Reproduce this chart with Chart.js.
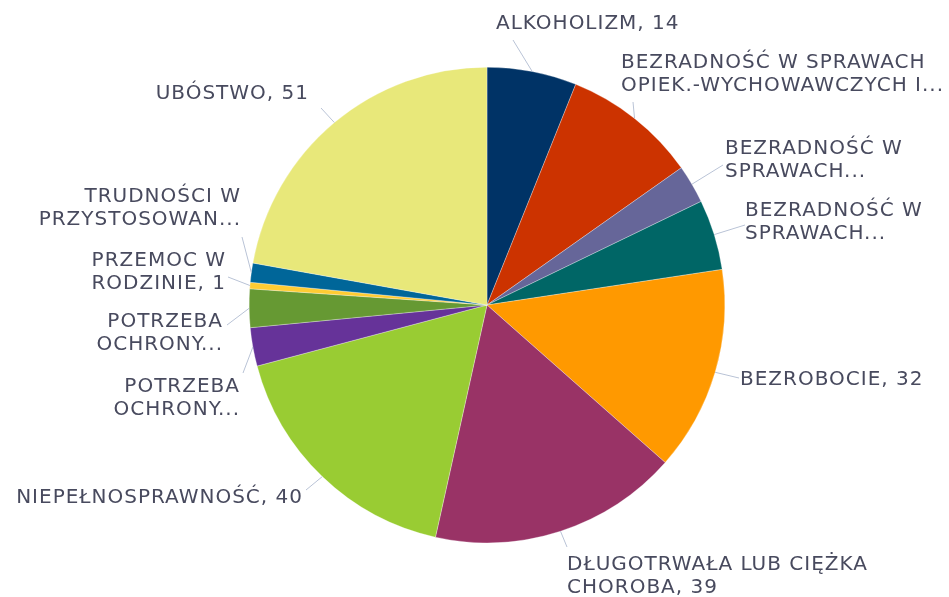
<!DOCTYPE html>
<html>
<head>
<meta charset="utf-8">
<script src="https://cdn.jsdelivr.net/npm/chart.js@4/dist/chart.umd.min.js"></script>
<style>
  html, body { margin: 0; background: #fff; }
</style>
</head>
<body>
<canvas id="chart" width="949" height="597"></canvas>
<script>
const categories = [
  'ALKOHOLIZM',
  'BEZRADNOŚĆ W SPRAWACH\nOPIEK.-WYCHOWAWCZYCH I...',
  'BEZRADNOŚĆ W\nSPRAWACH...',
  'BEZRADNOŚĆ W\nSPRAWACH...',
  'BEZROBOCIE',
  'DŁUGOTRWAŁA LUB CIĘŻKA\nCHOROBA',
  'NIEPEŁNOSPRAWNOŚĆ',
  'POTRZEBA\nOCHRONY...',
  'POTRZEBA\nOCHRONY...',
  'PRZEMOC W\nRODZINIE',
  'TRUDNOŚCI W\nPRZYSTOSOWAN...',
  'UBÓSTWO'
];
const values = [14, 21, 6, 11, 32, 39, 40, 6, 6, 1, 3, 51];
const colors = ['#003366', '#cc3300', '#666699', '#006666', '#ff9900', '#993366',
                '#99cc33', '#663399', '#669933', '#ffcc33', '#006699', '#e8e87a'];

// where each data label sits: leader line end + text anchor, offsets from pie centre
const labelLayout = [
  { end: [26, -265],  text: [9, -281],    align: 'left' },
  { end: [146, -203], text: [134, -242],  align: 'left' },
  { end: [236, -140], text: [238, -156],  align: 'left' },
  { end: [258, -80],  text: [258, -94],   align: 'left' },
  { end: [252, 73],   text: [253, 75],    align: 'left' },
  { end: [80, 242],   text: [80, 260],    align: 'left' },
  { end: [-181, 185], text: [-184, 193],  align: 'right' },
  { end: [-244, 68],  text: [-247, 82],   align: 'right' },
  { end: [-260, 20],  text: [-264, 17],   align: 'right' },
  { end: [-259, -28], text: [-261, -44],  align: 'right' },
  { end: [-245, -68], text: [-246, -108], align: 'right' },
  { end: [-166, -197], text: [-178, -211], align: 'right' }
];

function labelText(i) {
  const name = categories[i];
  if (name.endsWith('...')) return name;
  return name + ', ' + values[i];
}

const pieLabels = {
  id: 'pieLabels',
  afterDatasetsDraw(chart) {
    const ctx = chart.ctx;
    const meta = chart.getDatasetMeta(0);
    ctx.save();
    ctx.font = '20px "DejaVu Sans"';
    ctx.letterSpacing = '1px';
    meta.data.forEach((arc, i) => {
      const p = arc.getProps(['x', 'y', 'startAngle', 'endAngle', 'outerRadius'], true);
      const mid = (p.startAngle + p.endAngle) / 2;
      const sx = p.x + Math.cos(mid) * p.outerRadius;
      const sy = p.y + Math.sin(mid) * p.outerRadius;
      const L = labelLayout[i];
      ctx.strokeStyle = '#b9c3d6';
      ctx.lineWidth = 1;
      ctx.beginPath();
      ctx.moveTo(sx, sy);
      ctx.lineTo(p.x + L.end[0], p.y + L.end[1]);
      ctx.stroke();
      ctx.fillStyle = '#484a5e';
      ctx.textAlign = L.align;
      ctx.textBaseline = 'middle';
      labelText(i).split('\n').forEach((t, k) => {
        ctx.fillText(t, p.x + L.text[0], p.y + L.text[1] + k * 23);
      });
    });
    ctx.restore();
  }
};

new Chart(document.getElementById('chart'), {
  type: 'pie',
  data: {
    labels: categories,
    datasets: [{
      data: values,
      backgroundColor: colors,
      borderColor: '#ffffff',
      borderWidth: 0.3
    }]
  },
  options: {
    responsive: false,
    animation: false,
    layout: { padding: { left: 249, right: 224, top: 67, bottom: 54 } },
    plugins: {
      legend: { display: false },
      tooltip: { enabled: false }
    }
  },
  plugins: [pieLabels]
});
</script>
</body>
</html>
